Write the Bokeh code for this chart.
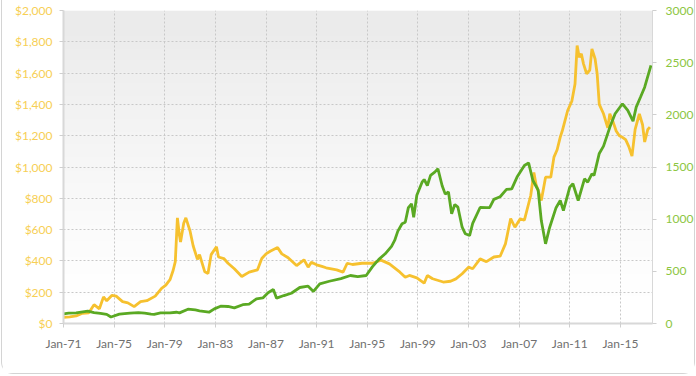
import numpy as np
import pandas as pd
from bokeh.plotting import figure
from bokeh.models import Range1d, LinearAxis, FixedTicker, DatetimeTickFormatter, NumeralTickFormatter
from bokeh.embed import file_html
from bokeh.resources import INLINE

# ---------------- data ----------------
gold_dates = [
    "1971-01", "1971-07", "1972-01", "1972-07", "1973-01", "1973-06", "1973-11", "1974-03",
    "1974-06", "1974-11", "1975-03", "1975-09", "1976-02", "1976-08", "1977-02", "1977-08",
    "1978-04", "1978-10", "1979-02", "1979-06", "1979-09", "1979-11", "1980-01", "1980-03",
    "1980-04", "1980-07", "1980-09", "1981-01", "1981-04", "1981-08", "1981-10", "1982-03",
    "1982-06", "1982-09", "1983-02", "1983-04", "1983-09", "1984-01", "1984-07", "1985-02",
    "1985-09", "1986-05", "1986-09", "1987-01", "1987-05", "1987-12", "1988-04", "1988-10",
    "1989-06", "1990-01", "1990-05", "1990-08", "1991-01", "1991-06", "1991-10", "1992-08",
    "1993-02", "1993-06", "1993-11", "1994-08", "1995-06", "1996-02", "1996-10", "1997-08",
    "1998-01", "1998-05", "1998-12", "1999-07", "1999-10", "2000-03", "2001-01", "2001-08",
    "2002-01", "2002-07", "2003-01", "2003-05", "2003-12", "2004-06", "2005-01", "2005-07",
    "2005-12", "2006-05", "2006-09", "2007-02", "2007-06", "2007-12", "2008-03", "2008-05",
    "2008-08", "2008-10", "2009-02", "2009-07", "2009-10", "2010-01", "2010-04", "2010-06",
    "2010-11", "2011-03", "2011-06", "2011-08", "2011-10", "2011-12", "2012-02", "2012-05",
    "2012-08", "2012-10", "2013-01", "2013-03", "2013-05", "2013-09", "2014-01", "2014-03",
    "2014-06", "2014-09", "2014-12", "2015-03", "2015-06", "2015-09", "2015-12", "2016-03",
    "2016-07", "2016-10", "2016-12", "2017-03", "2017-05",
]
gold_values = [
    40, 42, 48, 65, 68, 120, 94, 170,
    145, 180, 175, 140, 132, 108, 140, 146,
    175, 225, 245, 280, 340, 395, 675, 560,
    520, 640, 675, 590, 495, 410, 440, 330,
    320, 440, 490, 425, 415, 385, 350, 300,
    328, 343, 415, 445, 462, 485, 445, 420,
    370, 407, 360, 392, 375, 365, 356, 343,
    328, 385, 377, 385, 385, 405, 381, 328,
    296, 307, 292, 258, 307, 286, 265, 270,
    285, 318, 360, 350, 413, 395, 425, 430,
    509, 670, 615, 669, 660, 818, 965, 890,
    829, 786, 935, 935, 1063, 1110, 1191, 1233,
    1361, 1420, 1530, 1776, 1702, 1723, 1659, 1596,
    1620, 1755, 1690, 1596, 1400, 1340, 1250, 1340,
    1290, 1230, 1200, 1190, 1175, 1130, 1070, 1240,
    1340, 1270, 1160, 1240, 1255,
]

sp_dates = [
    "1971-01", "1971-06", "1972-01", "1972-12", "1973-06", "1973-12", "1974-06", "1974-10",
    "1975-06", "1976-04", "1976-12", "1977-06", "1977-12", "1978-03", "1978-09", "1979-06",
    "1979-12", "1980-03", "1980-11", "1981-06", "1981-10", "1982-07", "1982-12", "1983-06",
    "1984-01", "1984-07", "1985-03", "1985-09", "1986-04", "1986-10", "1987-03", "1987-08",
    "1987-11", "1988-06", "1989-01", "1989-09", "1990-05", "1990-10", "1991-04", "1992-01",
    "1992-12", "1993-09", "1994-04", "1994-12", "1995-06", "1995-12", "1996-06", "1996-12",
    "1997-03", "1997-06", "1997-10", "1998-01", "1998-04", "1998-07", "1998-09", "1998-12",
    "1999-05", "1999-07", "1999-10", "2000-01", "2000-05", "2000-08", "2000-12", "2001-03",
    "2001-06", "2001-09", "2001-12", "2002-03", "2002-07", "2002-10", "2003-02", "2003-05",
    "2003-12", "2004-06", "2004-09", "2005-01", "2005-07", "2006-01", "2006-06", "2006-11",
    "2007-06", "2007-10", "2008-02", "2008-07", "2008-10", "2009-02", "2009-06", "2009-12",
    "2010-04", "2010-07", "2011-01", "2011-04", "2011-09", "2012-03", "2012-06", "2012-10",
    "2012-12", "2013-05", "2013-09", "2014-03", "2014-08", "2015-03", "2015-08", "2016-01",
    "2016-04", "2016-08", "2016-12", "2017-06",
]
sp_values = [
    93, 100, 102, 118, 105, 97, 88, 62,
    90, 100, 104, 99, 90, 88, 101, 102,
    108, 102, 137, 130, 122, 108, 140, 166,
    163, 150, 180, 185, 237, 245, 295, 326,
    243, 268, 290, 345, 358, 307, 380, 405,
    430, 460, 450, 460, 545, 615, 668, 740,
    796, 885, 956, 970, 1111, 1147, 1019, 1229,
    1354, 1380, 1323, 1420, 1451, 1483, 1320, 1240,
    1260, 1052, 1140, 1115, 923, 860, 843, 960,
    1112, 1110, 1110, 1190, 1215, 1285, 1290, 1403,
    1514, 1540, 1371, 1280, 987, 764, 923, 1110,
    1179, 1083, 1307, 1339, 1179, 1387, 1354, 1435,
    1420, 1630, 1700, 1880, 2010, 2106, 2042, 1940,
    2074, 2169, 2265, 2473,
]

x_tick_dates = ["1971-01", "1975-01", "1979-01", "1983-01", "1987-01", "1991-01",
                "1995-01", "1999-01", "2003-01", "2007-01", "2011-01", "2015-01"]
left_ticks = [0, 200, 400, 600, 800, 1000, 1200, 1400, 1600, 1800, 2000]
right_ticks = [0, 500, 1000, 1500, 2000, 2500, 3000]


def to_ms(s):
    return (pd.Timestamp(s) - pd.Timestamp("1970-01-01")) // pd.Timedelta("1ms")


gold_x = pd.to_datetime(gold_dates)
sp_x = pd.to_datetime(sp_dates)
x_start = to_ms("1971-01-01")
x_end = to_ms("2017-07-15")

FONT = "Lato"
GOLD = "#f6c12f"
GREEN = "#5aa923"

p = figure(width=694, height=374, x_axis_type="datetime",
           x_range=Range1d(x_start, x_end), y_range=Range1d(0, 2000),
           output_backend="svg", toolbar_location=None,
           min_border_left=61, min_border_right=42, min_border_top=10, min_border_bottom=51)
p.styles = {"margin-left": "1px", "border": "1px solid #d4d4d4", "border-top": "none",
            "border-radius": "0 0 12px 12px"}
p.outline_line_color = None
p.background_fill_color = "white"
p.border_fill_color = "white"

# gradient background inside the plot frame
N = 200
img = np.zeros((N, 1, 4), dtype=np.uint8)
t = np.linspace(0, 1, N)  # 0 bottom -> 1 top
shade = (255 - 20 * np.clip(t * 1.15 - 0.1, 0, 1) ** 1.2).astype(np.uint8)
img[:, 0, 0] = shade
img[:, 0, 1] = shade
img[:, 0, 2] = shade
img[:, 0, 3] = 255
r = p.image_rgba(image=[img.view(np.uint32).reshape(N, 1)], x=x_start, y=0,
                 dw=x_end - x_start, dh=2000)
r.level = "image"

# lines
p.line(gold_x, gold_values, line_color=GOLD, line_width=2.8)
p.extra_y_ranges = {"right": Range1d(0, 3000)}
p.line(sp_x, sp_values, line_color=GREEN, line_width=2.8, y_range_name="right")

# grid
p.xgrid.ticker = FixedTicker(ticks=[to_ms(d) for d in x_tick_dates])
p.ygrid.ticker = FixedTicker(ticks=left_ticks)
for g in (p.xgrid, p.ygrid):
    g.grid_line_color = "#c8c8c8"
    g.grid_line_dash = "2 2"
    g.grid_line_width = 1

# x axis
xa = p.xaxis[0]
xa.ticker = FixedTicker(ticks=[to_ms(d) for d in x_tick_dates])
xa.formatter = DatetimeTickFormatter(years="%b-%y", months="%b-%y", days="%b-%y")
xa.major_label_text_color = "#707070"
xa.major_label_text_font = FONT
xa.major_label_text_font_size = "12px"
xa.major_label_standoff = 8
xa.axis_line_color = "#d8d8d8"
xa.axis_line_width = 2
xa.major_tick_line_color = "#cfcfcf"
xa.major_tick_out = 4
xa.major_tick_in = 0
xa.minor_tick_line_color = None

# left axis
ya = p.yaxis[0]
ya.ticker = FixedTicker(ticks=left_ticks)
ya.formatter = NumeralTickFormatter(format="$0,0")
ya.major_label_text_color = "#f7cf55"
ya.major_label_text_font = FONT
ya.major_label_text_font_size = "12px"
ya.major_label_standoff = 7
ya.axis_line_color = "#d8d8d8"
ya.axis_line_width = 2
ya.major_tick_line_color = "#cfcfcf"
ya.major_tick_out = 4
ya.major_tick_in = 0
ya.minor_tick_line_color = None

# right axis
ra = LinearAxis(y_range_name="right", ticker=FixedTicker(ticks=right_ticks))
ra.major_label_text_color = "#8cc63f"
ra.major_label_text_font = FONT
ra.major_label_text_font_size = "12px"
ra.major_label_standoff = 9
ra.axis_line_color = "#d8d8d8"
ra.axis_line_width = 1
ra.major_tick_line_color = "#cfcfcf"
ra.major_tick_out = 4
ra.major_tick_in = 0
ra.minor_tick_line_color = None
p.add_layout(ra, "right")

open("out.html", "w").write(file_html(p, INLINE))
